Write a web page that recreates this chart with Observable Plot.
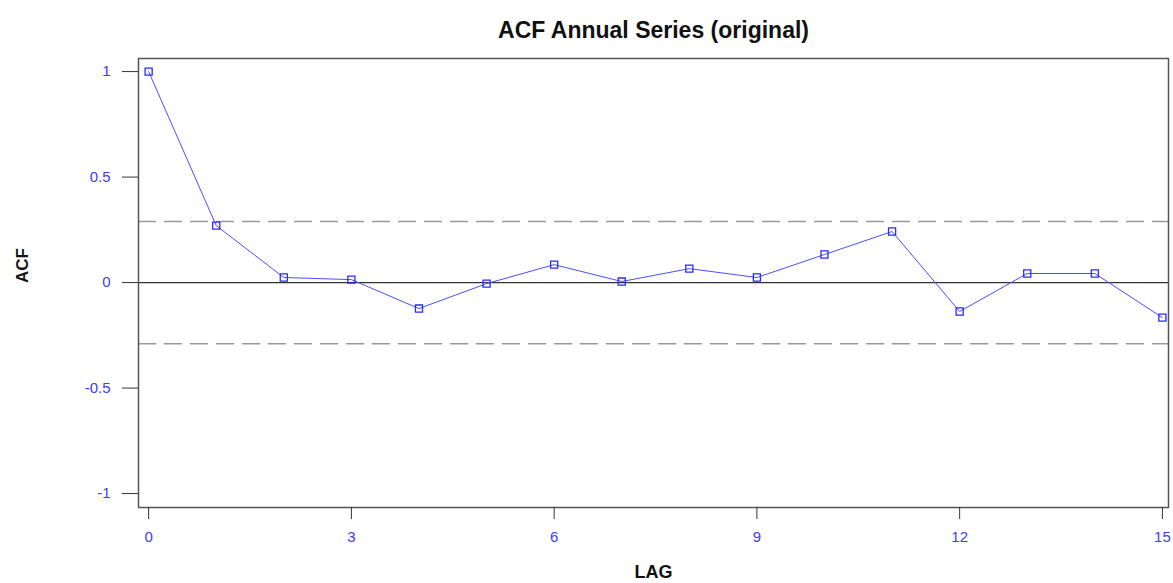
<!DOCTYPE html>
<html>
<head>
<meta charset="utf-8">
<script src="https://cdn.jsdelivr.net/npm/d3@7"></script>
<script src="https://cdn.jsdelivr.net/npm/@observablehq/plot@0.6"></script>
<style>
  html, body { margin: 0; padding: 0; background: #fff; }
  #chart svg { display: block; }
</style>
</head>
<body>
<div id="chart"></div>
<script>
const title = "ACF Annual Series (original)";
const xLabel = "LAG";
const yLabel = "ACF";
const lags = [0, 1, 2, 3, 4, 5, 6, 7, 8, 9, 10, 11, 12, 13, 14, 15];
const acf = [1, 0.27, 0.024, 0.014, -0.123, -0.005, 0.085, 0.005, 0.066, 0.024, 0.133, 0.242, -0.137, 0.043, 0.043, -0.166];
const bounds = [0.29, -0.29];
const xTicks = [0, 3, 6, 9, 12, 15];
const yTicks = [-1, -0.5, 0, 0.5, 1];

const data = lags.map((lag, i) => ({lag, acf: acf[i]}));
const font = "'Liberation Sans', Arial, sans-serif";
const blue = "#3b3bff";

const chart = Plot.plot({
  width: 1173,
  height: 583,
  marginLeft: 138,
  marginRight: 5,
  marginTop: 58,
  marginBottom: 76,
  style: {fontFamily: font, fontSize: "14px", background: "#fff"},
  x: {domain: [-0.15, 15.09], label: null},
  y: {domain: [-1.066, 1.062], label: null},
  marks: [
    Plot.ruleY(bounds, {stroke: "#999", strokeWidth: 1.5, strokeDasharray: "18,8"}),
    Plot.ruleY([0], {stroke: "#333", strokeWidth: 1.2}),
    Plot.line(data, {x: "lag", y: "acf", stroke: "#4d4dff", strokeWidth: 1}),
    Plot.dot(data, {x: "lag", y: "acf", symbol: "square", r: 4, stroke: "#2a2aff", strokeWidth: 1.3, fill: "none"}),
    Plot.frame({stroke: "#555", strokeWidth: 1.5}),
    Plot.axisY({ticks: yTicks, tickSize: 16, tickFormat: () => "", stroke: "#333", label: null}),
    Plot.axisY({ticks: yTicks, tickSize: 0, tickPadding: 28, color: blue, tickFormat: d => String(d), label: null, fontSize: 15}),
    Plot.axisX({ticks: xTicks, tickSize: 12, tickFormat: () => "", stroke: "#333", label: null}),
    Plot.axisX({ticks: xTicks, tickSize: 0, tickPadding: 24, color: blue, label: null, fontSize: 15}),
    Plot.text([title], {frameAnchor: "top", dy: -28, lineAnchor: "middle", text: d => d, fontSize: 23, fontWeight: "bold", fill: "#111"}),
    Plot.text([xLabel], {frameAnchor: "bottom", dy: 65, lineAnchor: "middle", text: d => d, fontSize: 18, fontWeight: "bold", fill: "#111"}),
    Plot.text([yLabel], {frameAnchor: "left", dx: -116, rotate: -90, text: d => d, fontSize: 17, fontWeight: "bold", fill: "#111"})
  ]
});
document.getElementById("chart").appendChild(chart);
</script>
</body>
</html>
